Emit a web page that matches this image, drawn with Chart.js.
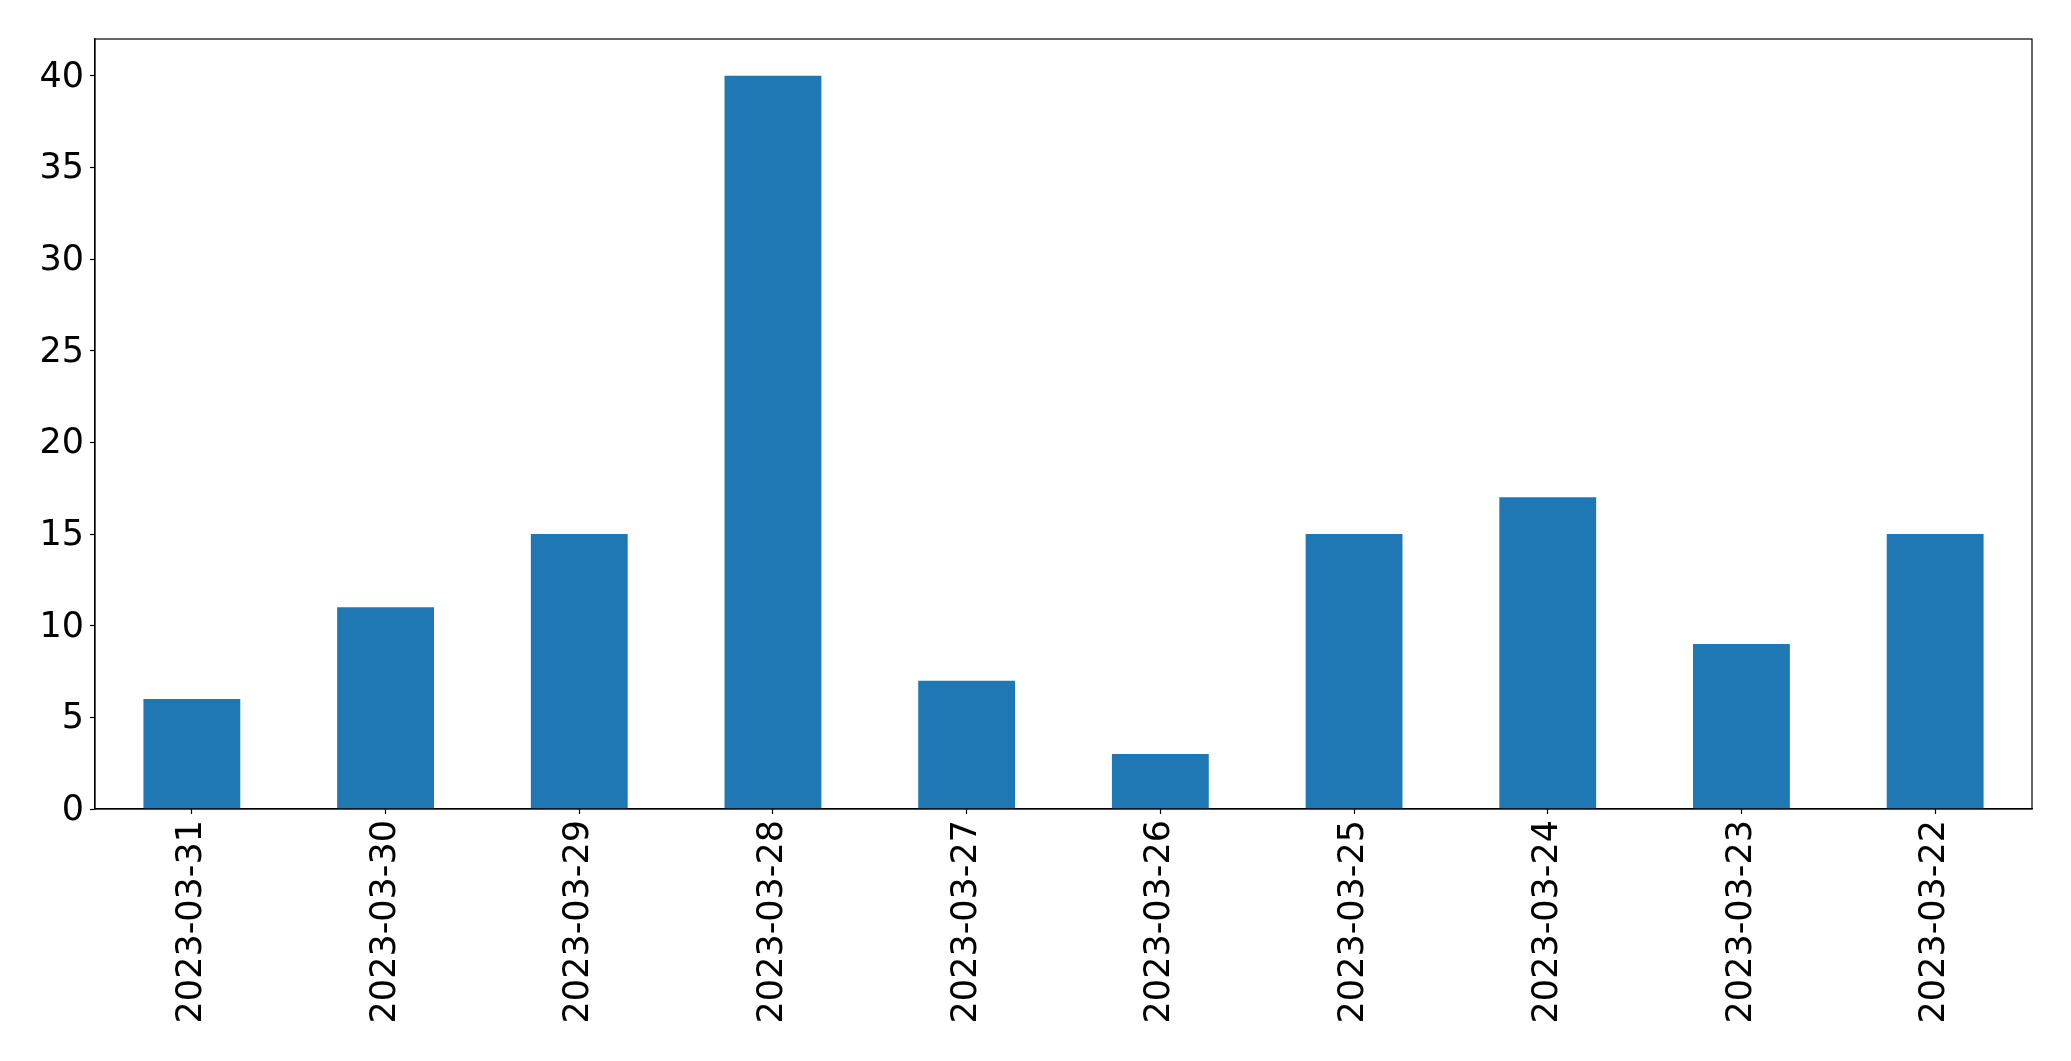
<!DOCTYPE html>
<html>
<head>
<meta charset="utf-8">
<script src="https://cdn.jsdelivr.net/npm/chart.js@4/dist/chart.umd.min.js"></script>
<style>
    html, body { margin: 0; padding: 0; background: #fff; }
    #wrap { width: 2071px; height: 1061px; }
</style>
</head>
<body>
<div id="wrap"><canvas id="barChart" width="2071" height="1061"></canvas></div>
<script>
// Data
const dates = ['2023-03-31', '2023-03-30', '2023-03-29', '2023-03-28', '2023-03-27',
               '2023-03-26', '2023-03-25', '2023-03-24', '2023-03-23', '2023-03-22'];
const counts = [6, 11, 15, 40, 7, 3, 15, 17, 9, 15];
const yTicks = [0, 5, 10, 15, 20, 25, 30, 35, 40];

const tickFont = { family: 'DejaVu Sans', size: 35 };

// full frame round the plot, like matplotlib's spines
const frame = {
    id: 'frame',
    afterDraw(chart) {
        const a = chart.chartArea;
        const ctx = chart.ctx;
        ctx.save();
        ctx.strokeStyle = '#000';
        ctx.lineWidth = 1.2;
        ctx.strokeRect(a.left, a.top, a.right - a.left, a.bottom - a.top);
        ctx.restore();
    }
};

new Chart(document.getElementById('barChart').getContext('2d'), {
    type: 'bar',
    data: {
        labels: dates,
        datasets: [{
            data: counts,
            backgroundColor: '#1f77b4',
            borderWidth: 0,
            categoryPercentage: 1.0,
            barPercentage: 0.5
        }]
    },
    options: {
        responsive: false,
        animation: false,
        devicePixelRatio: 1,
        layout: { padding: { top: 39, right: 39, left: 0, bottom: 0 } },
        plugins: { legend: { display: false }, tooltip: { enabled: false } },
        scales: {
            x: {
                offset: true,
                grid: { display: true, drawOnChartArea: false, offset: false, tickLength: 5, tickColor: '#000', tickWidth: 1.2 },
                border: { display: true, color: '#000', width: 1.2 },
                ticks: { color: '#000', font: tickFont, minRotation: 90, maxRotation: 90, padding: 6, autoSkip: false },
                afterFit: scale => { scale.height = 252; }
            },
            y: {
                min: 0,
                max: 42,
                grid: { display: true, drawOnChartArea: false, tickLength: 5, tickColor: '#000', tickWidth: 1.2 },
                border: { display: true, color: '#000', width: 1.2 },
                ticks: { color: '#000', font: tickFont, stepSize: 5, includeBounds: false, padding: 6, labelOffset: 2 },
                afterBuildTicks: scale => { scale.ticks = yTicks.map(v => ({ value: v })); },
                afterFit: scale => { scale.width = 95; }
            }
        }
    },
    plugins: [frame]
});
</script>
</body>
</html>
